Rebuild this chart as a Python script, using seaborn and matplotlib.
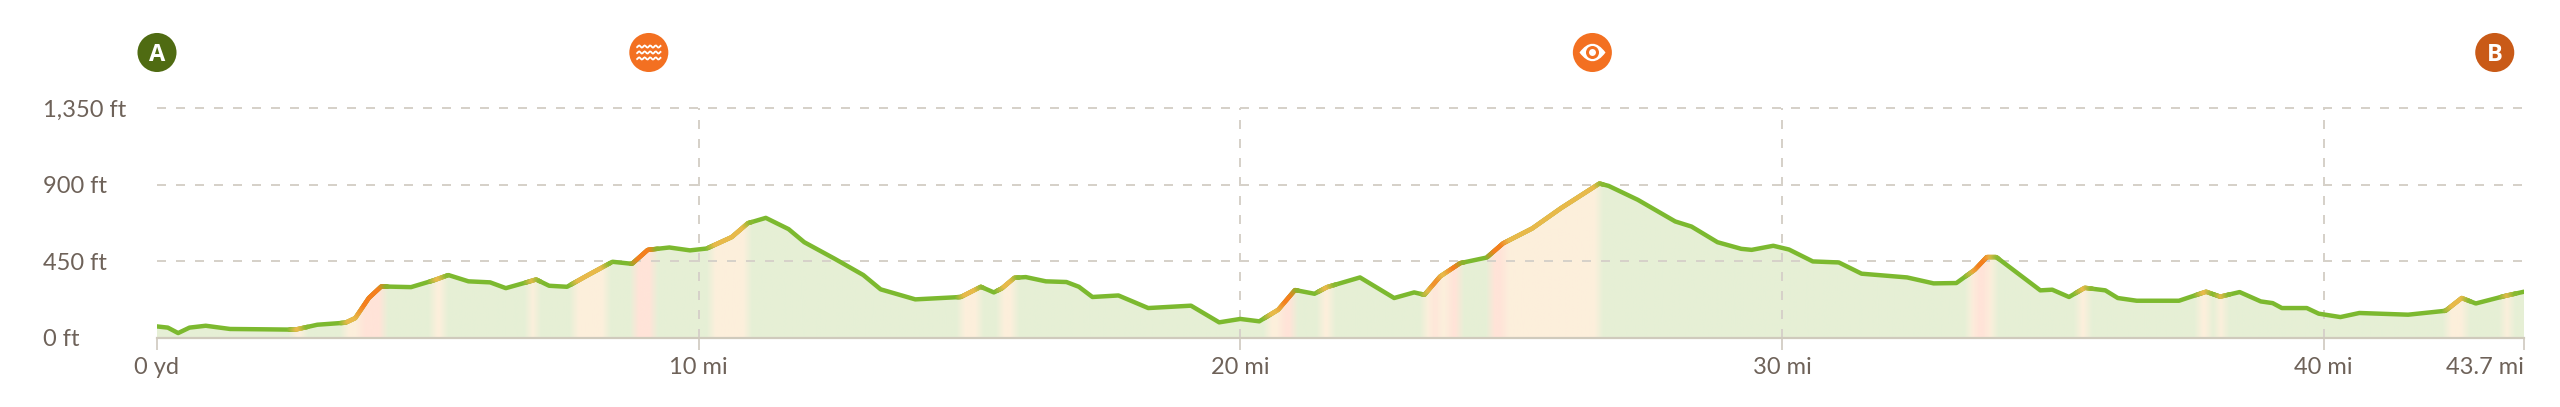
import numpy as np
import pandas as pd
import matplotlib
matplotlib.use("Agg")
import matplotlib.pyplot as plt
import seaborn as sns
from matplotlib.collections import LineCollection
from matplotlib.path import Path

# elevation profile
miles = [0, .2, .39, .6, .9, 1.35, 2.0, 2.55, 2.96, 3.48, 3.66, 3.91, 4.14, 4.69, 5.1, 5.38, 5.75, 6.15, 6.44, 6.82,
         7.0, 7.24, 7.57, 7.97, 8.41, 8.77, 9.06, 9.46, 9.84, 10.15, 10.61, 10.91, 11.24, 11.66, 11.95, 12.51, 13.04,
         13.36, 14.0, 14.84, 15.21, 15.45, 15.6, 15.83, 16.04, 16.41, 16.79, 17.02, 17.27, 17.75, 18.3, 19.09, 19.61,
         20.0, 20.35, 20.7, 21.01, 21.37, 21.6, 22.21, 22.84, 23.21, 23.4, 23.69, 24.06, 24.55, 24.85, 25.39, 25.92,
         26.63, 26.8, 27.34, 28.03, 28.33, 28.81, 29.25, 29.44, 29.84, 30.13, 30.57, 31.05, 31.47, 32.31, 32.8, 33.22,
         33.56, 33.78, 33.96, 34.77, 34.99, 35.3, 35.59, 35.97, 36.2, 36.55, 37.33, 37.83, 38.09, 38.45, 38.84, 39.06,
         39.23, 39.69, 39.91, 40.31, 40.66, 41.56, 42.25, 42.55, 42.81, 43.36, 43.7]
elevation = [68, 61, 29, 61, 72, 53, 51, 49, 78, 90, 117, 235, 303, 299, 338, 370, 333, 327, 293, 327,
             344, 307, 301, 372, 448, 436, 518, 532, 515, 526, 593, 675, 706, 640, 563, 466, 370,
             286, 227, 241, 301, 268, 292, 354, 358, 333, 329, 301, 241, 250, 176, 190, 92,
             112, 98, 166, 282, 260, 299, 356, 235, 268, 254, 362, 440, 473, 556, 644, 763,
             908, 894, 812, 685, 655, 563, 524, 518, 542, 520, 450, 444, 378, 356, 321, 323,
             401, 475, 475, 280, 284, 241, 295, 280, 235, 219, 219, 272, 243, 270, 215, 205,
             176, 176, 143, 123, 147, 137, 160, 235, 203, 248, 272]

# steep stretches: 1 = moderate, 2 = steep
band_start = [2.5, 3.46, 3.75, 5.1, 6.85, 7.7, 8.8, 10.23, 14.84, 15.57, 20.5, 20.75, 21.49, 23.4, 23.55, 23.66,
              23.85, 24.62, 24.89, 33.45, 33.56, 33.8, 35.48, 37.7, 38.04, 42.29, 43.32]
band_end = [2.7, 3.75, 4.18, 5.3, 7.0, 8.3, 9.18, 10.91, 15.18, 15.83, 20.75, 20.99, 21.68, 23.55, 23.66, 23.85,
            24.05, 24.89, 26.63, 33.56, 33.8, 33.92, 35.65, 37.89, 38.19, 42.63, 43.47]
band_kind = [1, 1, 2, 1, 1, 1, 2, 1, 1, 1, 1, 2, 1, 1, 2, 1, 2, 2, 1, 1, 2, 1, 1, 1, 1, 1, 1]

x_ticks = [0, 10, 20, 30, 40, 43.7]
x_labels = ["0 yd", "10 mi", "20 mi", "30 mi", "40 mi", "43.7 mi"]
y_ticks = [0, 450, 900, 1350]
y_labels = ["0 ft", "450 ft", "900 ft", "1,350 ft"]

marker_miles = [0, 9.08, 26.5, 43.16]
marker_elev = [1678, 1678, 1678, 1678]
marker_colors = ["#4F6B12", "#F37021", "#F37021", "#C95A17"]

LINE_COLORS = np.array([[124, 185, 47], [232, 185, 74], [245, 127, 30]]) / 255
FILL_COLORS = np.array([[230, 240, 214], [252, 239, 220], [255, 228, 216]]) / 255
TEXT = "#6E6259"
GRID = "#D6D1C9"

sns.set_style("white")
plt.rcParams["font.family"] = ["Lato", "DejaVu Sans"]

W, H = 2560, 407
fig = plt.figure(figsize=(W / 100, H / 100), dpi=100, facecolor="white")
ax = fig.add_axes([157 / W, (H - 338) / H, 2367 / W, 229.7 / H])

df = pd.DataFrame({"miles": miles, "elevation": elevation})

# colour of each little piece of distance, softened at the band edges
fine_x = np.linspace(0, 43.7, 2400)
fine_y = np.interp(fine_x, miles, elevation)
kinds = np.zeros(fine_x.size, dtype=int)
for start, end, kind in zip(band_start, band_end, band_kind):
    kinds[(fine_x >= start) & (fine_x < end)] = kind


def soften(colors, width=9):
    pad = np.pad(colors, ((width, width), (0, 0)), mode="edge")
    kernel = np.ones(width) / width
    out = np.column_stack([np.convolve(pad[:, i], kernel, mode="same") for i in range(3)])
    return out[width:-width]


fill_rgb = soften(FILL_COLORS[kinds])
line_rgb = soften(LINE_COLORS[kinds])

# area under the line
outline = ax.fill_between(df["miles"], df["elevation"], 0, color="none", lw=0)
img = ax.imshow(fill_rgb[np.newaxis, :, :], extent=(0, 43.7, 0, 1350), aspect="auto", zorder=1)
img.set_clip_path(outline.get_paths()[0], ax.transData)

for y in y_ticks[1:]:
    ax.axhline(y, color=GRID, lw=1.44, ls=(0, (4.5, 5)), zorder=2, clip_on=False)
for x in x_ticks[1:-1]:
    ax.axvline(x, color=GRID, lw=1.44, ls=(0, (4.5, 5)), zorder=2)

sns.lineplot(data=df, x="miles", y="elevation", ax=ax, color=LINE_COLORS[0], lw=3.2, zorder=3, errorbar=None)

# gradient pieces on top of the green line
points = np.column_stack([fine_x, fine_y])
segments = np.stack([points[:-1], points[1:]], axis=1)
tinted = np.abs(line_rgb[:-1] - LINE_COLORS[0]).sum(axis=1) > 0.01
ax.add_collection(LineCollection(segments[tinted], colors=line_rgb[:-1][tinted], linewidths=3.2,
                                 capstyle="round", zorder=4))

ax.set_xlim(0, 43.7)
ax.set_ylim(0, 1350)
ax.set_xlabel("")
ax.set_ylabel("")
sns.despine(ax=ax, left=True, top=True, right=True)
ax.spines["bottom"].set_color("#CFCABC")
ax.spines["bottom"].set_linewidth(1.6)

ax.set_xticks(x_ticks)
ax.set_xticklabels(x_labels, fontsize=17, color=TEXT)
ax.set_yticks(y_ticks)
ax.set_yticklabels(y_labels, fontsize=17, color=TEXT)
ax.tick_params(axis="x", length=8.6, width=1.44, color=GRID, pad=5, bottom=True)
ax.tick_params(axis="y", length=0, pad=82)
for label in ax.get_yticklabels():
    label.set_ha("left")
ax.get_xticklabels()[-1].set_ha("right")

# waypoint badges above the chart
ax.scatter(marker_miles, marker_elev, s=790, c=marker_colors, lw=0, clip_on=False, zorder=5)
ax.text(marker_miles[0], marker_elev[0], "A", color="white", fontsize=17, fontweight="bold",
        ha="center", va="center_baseline", zorder=6, family="Open Sans")
ax.text(marker_miles[3], marker_elev[3], "B", color="white", fontsize=17, fontweight="bold",
        ha="center", va="center_baseline", zorder=6, family="Open Sans")

# water icon: three wavy strokes
wave_x = np.linspace(-1, 1, 25)
wave_verts, wave_codes = [], []
for row in [-0.48, 0, 0.48]:
    wave_verts += [(px, row + 0.09 * np.sin(px * 4.5 * np.pi)) for px in wave_x]
    wave_codes += [Path.MOVETO] + [Path.LINETO] * (wave_x.size - 1)
waves = Path(wave_verts, wave_codes)
ax.scatter(marker_miles[1], marker_elev[1], s=320, marker=waves, facecolors="none", edgecolors="white",
           lw=1.3, clip_on=False, zorder=6)

# eye icon
lens = Path([(-1, 0), (0, 1.35), (1, 0), (0, -1.35), (-1, 0)],
            [Path.MOVETO, Path.CURVE3, Path.CURVE3, Path.CURVE3, Path.CURVE3])
ax.scatter(marker_miles[2], marker_elev[2], s=640, marker=lens, c="white", lw=0, clip_on=False, zorder=6)
ax.scatter(marker_miles[2], marker_elev[2], s=88, c=marker_colors[2], lw=0, clip_on=False, zorder=7)
ax.scatter(marker_miles[2], marker_elev[2], s=25, c="white", lw=0, clip_on=False, zorder=8)

fig.savefig("out.png", dpi=100)
